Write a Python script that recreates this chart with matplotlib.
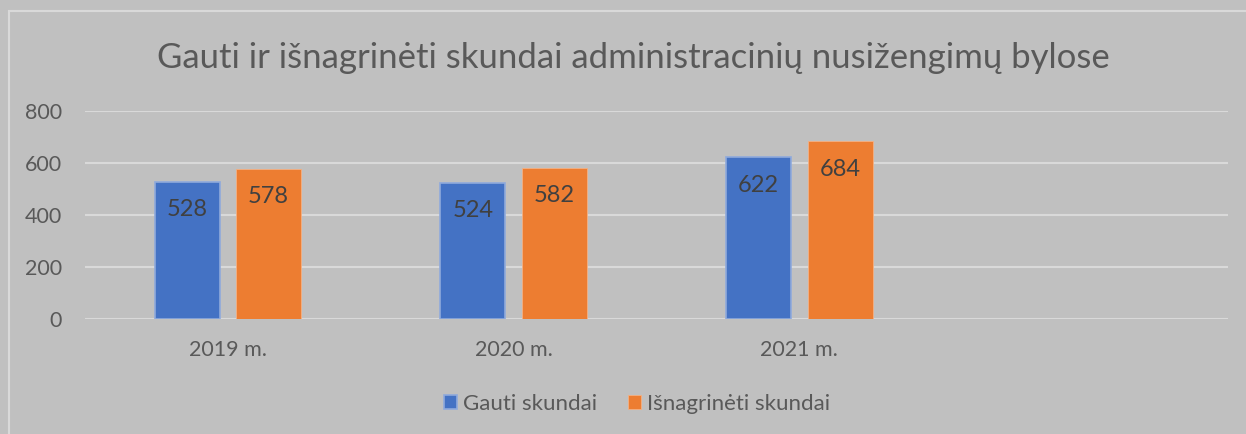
import numpy as np
import matplotlib.pyplot as plt
from matplotlib.patches import Rectangle

categories = ['2019 m.', '2020 m.', '2021 m.', '']
gauti = [528, 524, 622]
isnagrineti = [578, 582, 684]
series_names = ['Gauti skundai', 'Išnagrinėti skundai']
yticks = [0, 200, 400, 600, 800]

plt.rcParams['font.family'] = ['Lato', 'DejaVu Sans']

bg = '#c0c0c0'
fig = plt.figure(figsize=(12.46, 4.34), dpi=100, facecolor=bg)
ax = fig.add_axes([85 / 1246, 1 - 319 / 434, (1228 - 85) / 1246, 208 / 434])
ax.set_facecolor(bg)

# chart border (only top and left visible in the crop)
fig.patches.append(Rectangle((9 / 1246, -0.1), 1.2, 1 - 11 / 434 + 0.1,
                             transform=fig.transFigure, fill=False,
                             edgecolor='#d9d9d9', linewidth=1.5))

x = np.arange(len(categories))
w = 0.2275
off = 0.1426
b1 = ax.bar(x[:3] - off, gauti, w, color='#4472c4', edgecolor='#8faadc',
            linewidth=1.2, label=series_names[0], zorder=3)
b2 = ax.bar(x[:3] + off, isnagrineti, w, color='#ed7d31', edgecolor='#f4b183',
            linewidth=0.6, label=series_names[1], zorder=3)

for bars in (b1, b2):
    for r in bars:
        h = r.get_height()
        ax.annotate(f'{h:.0f}', (r.get_x() + r.get_width() / 2, h),
                    xytext=(0, -12.5), textcoords='offset points',
                    ha='center', va='top', fontsize=17, color='#404040', zorder=4)

ax.set_xlim(-0.5, len(categories) - 0.5)
ax.set_ylim(0, 800)
ax.set_yticks(yticks)
ax.set_xticks(x[:3])
ax.set_xticklabels(categories[:3])
ax.grid(axis='y', color='#d9d9d9', linewidth=1.5, zorder=0)
ax.tick_params(axis='both', length=0, labelsize=15.5, labelcolor='#595959')
ax.tick_params(axis='y', pad=16.5)
ax.tick_params(axis='x', pad=15)
for s in ax.spines.values():
    s.set_visible(False)

fig.text(0.508, 1 - 58 / 434, 'Gauti ir išnagrinėti skundai administracinių nusižengimų bylose',
         ha='center', va='center', fontsize=25, color='#595959')

leg = fig.legend(loc='center', bbox_to_anchor=(0.511, 1 - 404 / 434), ncol=2,
                 frameon=False, fontsize=16, handlelength=0.6, handleheight=0.6,
                 handletextpad=0.25, columnspacing=1.4)
for t in leg.get_texts():
    t.set_color('#595959')

fig.savefig('out.png', dpi=100, facecolor=bg)
